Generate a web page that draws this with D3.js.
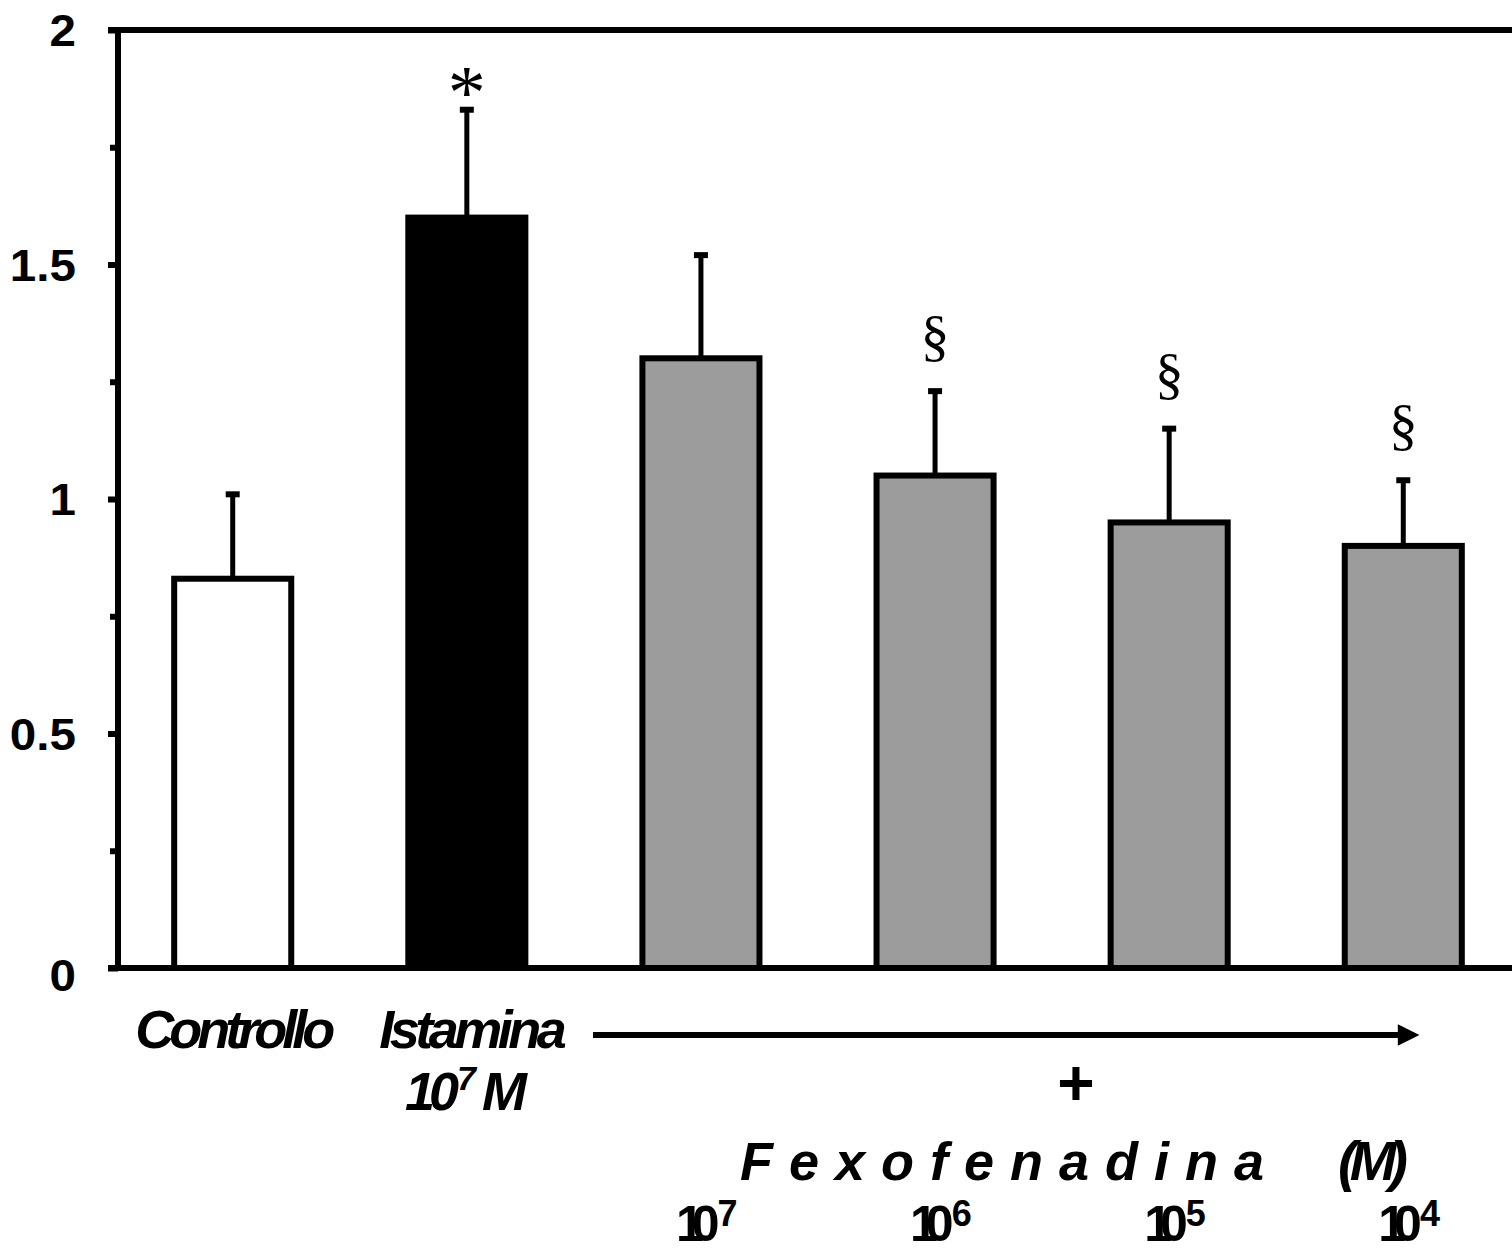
<!DOCTYPE html>
<html>
<head>
<meta charset="utf-8">
<script src="https://cdn.jsdelivr.net/npm/d3@7"></script>
<style>
  html, body { margin: 0; padding: 0; background: #fff; }
  svg text { font-family: "Liberation Sans", Arial, sans-serif; font-weight: bold; fill: #000; }
  .serif { font-family: "Liberation Serif", "Times New Roman", serif; font-weight: normal; }
</style>
</head>
<body>
<div id="chart"></div>
<script>
// data
const categories = ['Controllo', 'Istamina', 'F7', 'F6', 'F5', 'F4'];
const values = [0.83, 1.60, 1.30, 1.05, 0.95, 0.90];
const errors = [0.18, 0.23, 0.22, 0.18, 0.20, 0.14];
const fills = ['#ffffff', '#000000', '#9c9c9c', '#9c9c9c', '#9c9c9c', '#9c9c9c'];
const marks = ['', '*', '', '§', '§', '§'];
const yTicks = [0, 0.5, 1, 1.5, 2];
const yMinorTicks = [0.25, 0.75, 1.25, 1.75];
const concLabels = ['7', '6', '5', '4'];

const width = 1512, height = 1253;
const margin = { top: 30, left: 118, bottom: 285 };
const plotBottom = height - margin.bottom; // 968

const svg = d3.select('#chart').append('svg')
  .attr('width', width)
  .attr('height', height);

const xScale = d3.scaleBand()
  .domain(categories)
  .range([margin.left, 1518])
  .paddingInner(0.5)
  .paddingOuter(0.24);

const yScale = d3.scaleLinear()
  .domain([0, 2])
  .range([plotBottom, margin.top]);

const g = svg.append('g');

// bars
g.selectAll('.bar')
  .data(categories)
  .enter().append('rect')
  .attr('class', 'bar')
  .attr('x', d => xScale(d))
  .attr('y', (d, i) => yScale(values[i]))
  .attr('width', xScale.bandwidth())
  .attr('height', (d, i) => yScale(0) - yScale(values[i]))
  .attr('fill', (d, i) => fills[i])
  .attr('stroke', '#000')
  .attr('stroke-width', 6);

// error bars (upper only)
const cx = d => xScale(d) + xScale.bandwidth() / 2;
g.selectAll('.err')
  .data(categories)
  .enter().append('line')
  .attr('x1', cx).attr('x2', cx)
  .attr('y1', (d, i) => yScale(values[i]))
  .attr('y2', (d, i) => yScale(values[i] + errors[i]))
  .attr('stroke', '#000').attr('stroke-width', 5);

g.selectAll('.cap')
  .data(categories)
  .enter().append('line')
  .attr('x1', d => cx(d) - 7).attr('x2', d => cx(d) + 7)
  .attr('y1', (d, i) => yScale(values[i] + errors[i]))
  .attr('y2', (d, i) => yScale(values[i] + errors[i]))
  .attr('stroke', '#000').attr('stroke-width', 6);

// significance marks
g.selectAll('.mark')
  .data(categories)
  .enter().append('text')
  .attr('class', 'serif')
  .attr('x', cx)
  .attr('y', (d, i) => yScale(values[i] + errors[i]) - (marks[i] === '*' ? -8 : 36))
  .attr('text-anchor', 'middle')
  .attr('font-size', (d, i) => marks[i] === '*' ? 76 : 58)
  .attr('font-weight', 'bold')
  .text((d, i) => marks[i]);

// y axis
const yAxis = g.append('g')
  .attr('transform', `translate(${margin.left},0)`)
  .call(d3.axisLeft(yScale).tickValues(yTicks).tickSize(10).tickPadding(29).tickFormat(d3.format('')));
yAxis.select('.domain').attr('stroke-width', 6).attr('d', `M0,${margin.top}V${plotBottom}`);
yAxis.selectAll('.tick line').attr('stroke-width', 6);
yAxis.selectAll('.tick text')
  .attr('font-size', 44)
  .attr('dy', '0.36em')
  .attr('font-family', '"Liberation Sans", Arial, sans-serif')
  .attr('font-weight', 'bold')
  .attr('transform', 'scale(1.08,1)');
yAxis.selectAll('.tick').filter(d => d === 0).select('text').attr('dy', '0.5em');

g.append('g')
  .attr('transform', `translate(${margin.left},0)`)
  .call(d3.axisLeft(yScale).tickValues(yMinorTicks).tickSize(8).tickFormat(''))
  .call(s => s.select('.domain').remove())
  .selectAll('.tick line').attr('stroke-width', 6);

// x axis line and top frame line
g.append('line')
  .attr('x1', margin.left - 10).attr('x2', width)
  .attr('y1', yScale(0)).attr('y2', yScale(0))
  .attr('stroke', '#000').attr('stroke-width', 6);
g.append('line')
  .attr('x1', margin.left - 10).attr('x2', width)
  .attr('y1', yScale(2)).attr('y2', yScale(2))
  .attr('stroke', '#000').attr('stroke-width', 6);

// category labels
const lab = svg.append('g');
lab.append('text')
  .attr('x', cx('Controllo')).attr('y', 1048)
  .attr('text-anchor', 'middle')
  .attr('font-size', 54).attr('letter-spacing', -5)
  .attr('font-style', 'italic')
  .text('Controllo');
lab.append('text')
  .attr('x', cx('Istamina') + 4).attr('y', 1048)
  .attr('text-anchor', 'middle')
  .attr('font-size', 54).attr('letter-spacing', -4.5)
  .attr('font-style', 'italic')
  .text('Istamina');
const ist = lab.append('text')
  .attr('x', 405).attr('y', 1110)
  .attr('font-size', 54).attr('letter-spacing', -6)
  .attr('font-style', 'italic');
ist.append('tspan').text('10');
ist.append('tspan').attr('dx', 4).attr('dy', -20).attr('font-size', 34).text('7');
ist.append('tspan').attr('dx', 12).attr('dy', 20).text('M');

// arrow
const defs = svg.append('defs');
defs.append('marker')
  .attr('id', 'arrow')
  .attr('viewBox', '0 0 10 10')
  .attr('refX', 1).attr('refY', 5)
  .attr('markerWidth', 5).attr('markerHeight', 3.6)
  .attr('markerUnits', 'strokeWidth')
  .attr('orient', 'auto')
  .append('path').attr('d', 'M0,0L10,5L0,10Z').attr('fill', '#000');
svg.append('line')
  .attr('x1', 593).attr('x2', 1400)
  .attr('y1', 1035).attr('y2', 1035)
  .attr('stroke', '#000').attr('stroke-width', 6)
  .attr('marker-end', 'url(#arrow)');

svg.append('text')
  .attr('x', 1076).attr('y', 1105)
  .attr('text-anchor', 'middle')
  .attr('font-size', 64)
  .text('+');

svg.append('text')
  .attr('x', 740).attr('y', 1180)
  .attr('font-size', 54).attr('font-style', 'italic')
  .attr('letter-spacing', 16)
  .text('Fexofenadina');
svg.append('text')
  .attr('x', 1338).attr('y', 1180)
  .attr('font-size', 56).attr('font-style', 'italic')
  .attr('letter-spacing', -7)
  .text('(M)');

// concentration labels under gray bars
const conc = svg.selectAll('.conc')
  .data(categories.slice(2))
  .enter().append('text')
  .attr('x', d => cx(d) - 25)
  .attr('y', 1241)
  .attr('font-size', 50)
  .attr('letter-spacing', -12);
conc.append('tspan').text('10');
conc.append('tspan').attr('dx', 10).attr('dy', -15).attr('font-size', 36).attr('letter-spacing', 0)
  .text((d, i) => concLabels[i]);
</script>
</body>
</html>
